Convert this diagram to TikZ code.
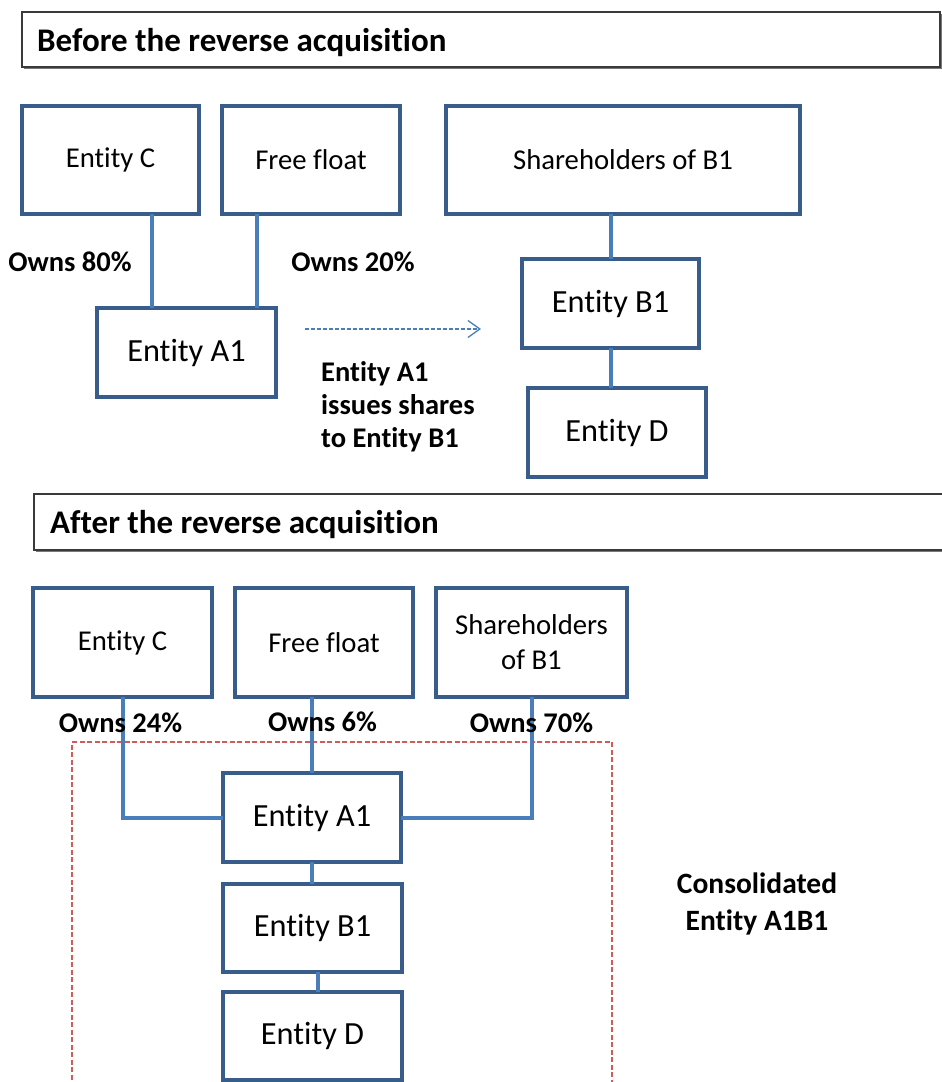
\documentclass[tikz,border=0pt]{standalone}
\usepackage{fontspec}
\setmainfont[Ligatures={NoCommon,NoContextual}]{Carlito}
\usetikzlibrary{arrows.meta,shadows}

\definecolor{boxblue}{HTML}{385D8A}
\definecolor{linkblue}{HTML}{4A7EBB}
\definecolor{groupred}{HTML}{D05B5B}
\definecolor{headgray}{HTML}{3A3A3A}

\newcommand\entsmall{\fontsize{28.7}{35}\selectfont}
\newcommand\entbig{\fontsize{32.3}{38}\selectfont}
\newcommand\ownsfont{\fontsize{28.5}{33}\selectfont\bfseries}
\newcommand\headfont{\fontsize{33}{38}\selectfont\bfseries}
\newcommand\consfont{\fontsize{29.5}{37}\selectfont\bfseries}

\tikzset{
  entity/.style={draw=boxblue, line width=3.3pt, fill=white, rectangle,
    inner sep=0pt, outer sep=0pt, align=center},
  link/.style={draw=linkblue, line width=4pt},
  headbox/.style={draw=headgray, line width=1.3pt, fill=white, rectangle,
    inner sep=0pt, outer sep=0pt,
    drop shadow={shadow xshift=1.6pt, shadow yshift=-1.6pt, opacity=0.75, fill=black!70}},
  groupbox/.style={draw=groupred, line width=1.6pt, dash pattern=on 5pt off 2.5pt,
    rectangle, inner sep=0pt, outer sep=0pt},
  ownslabel/.style={inner sep=0pt, font=\ownsfont},
}

\begin{document}
\begin{tikzpicture}[x=1pt, y=-1pt]
\useasboundingbox (0,0) rectangle (942,1082);
\clip (0,0) rectangle (942,1082);

% ---------- Before ----------
\node[headbox, minimum width=918pt, minimum height=55pt] (head1) at (481,39.5) {};
\node[anchor=base west, inner sep=0pt, font=\headfont] (head1txt) at (37,51) {Before the reverse acquisition};

\node[entity, minimum width=177pt, minimum height=108pt, font=\entsmall] (c1) at (110.5,160) {Entity C};
\node[entity, minimum width=178pt, minimum height=108pt, font=\entsmall] (ff1) at (311,160) {Free float};
\node[entity, minimum width=354pt, minimum height=108pt, font=\entsmall] (sh1) at (623,160) {Shareholders of B1};
\node[entity, minimum width=179pt, minimum height=89pt, font=\entbig] (a1) at (186.5,352.5) {Entity A1};
\node[entity, minimum width=177pt, minimum height=89pt, font=\entbig] (b1) at (610.5,303.5) {Entity B1};
\node[entity, minimum width=178pt, minimum height=89pt, font=\entbig] (d1) at (617,432.5) {Entity D};

\coordinate (x152) at (152,0);
\coordinate (x257) at (257,0);
\coordinate (x611) at (611,0);
\draw[link] (c1.south -| x152) -- (a1.north -| x152);
\draw[link] (ff1.south -| x257) -- (a1.north -| x257);
\draw[link] (sh1.south -| x611) -- (b1.north -| x611);
\draw[link] (b1.south -| x611) -- (d1.north -| x611);

\node[ownslabel] (own80) at (70,262) {Owns 80\%};
\node[ownslabel] (own20) at (353,262) {Owns 20\%};

\coordinate (issueStart) at (305,329);
\coordinate (issueEnd) at (481,329);
\draw[linkblue, line width=1.3pt, dash pattern=on 4pt off 2pt,
  -{Straight Barb[length=12pt, width=17pt, line width=1.3pt]}] (issueStart) -- (issueEnd);
\node[anchor=west, align=left, inner sep=0pt, font=\ownsfont] (issuetxt) at (321,407)
  {Entity A1\\issues shares\\to Entity B1};

% ---------- After ----------
\node[headbox, minimum width=940pt, minimum height=56pt] (head2) at (504,522) {};
\node[anchor=base west, inner sep=0pt, font=\headfont] (head2txt) at (50,533) {After the reverse acquisition};

\node[groupbox, minimum width=540pt, minimum height=380pt] (group) at (342,932) {};

\node[entity, minimum width=179pt, minimum height=109pt, font=\entsmall] (c2) at (122.5,642.5) {Entity C};
\node[entity, minimum width=178pt, minimum height=109pt, font=\entsmall] (ff2) at (324,642.5) {Free float};
\node[entity, minimum width=191pt, minimum height=109pt, font=\entsmall] (sh2) at (531.5,642.5) {Shareholders\\of B1};
\node[entity, minimum width=178pt, minimum height=89pt, font=\entbig] (a2) at (312,817.5) {Entity A1};
\node[entity, minimum width=179pt, minimum height=88pt, font=\entbig] (b2) at (312.5,928) {Entity B1};
\node[entity, minimum width=179pt, minimum height=88pt, font=\entbig] (d2) at (312.5,1036) {Entity D};

\coordinate (x318) at (318,0);
\draw[link] (c2.south) |- (a2.west);
\draw[link] (sh2.south) |- (a2.east);
\draw[link] (ff2.south -| a2.north) -- (a2.north);
\draw[link] (a2.south -| a2.north) -- (b2.north -| a2.north);
\draw[link] (b2.south -| x318) -- (d2.north -| x318);

\node[ownslabel] (own24) at (120.5,723) {Owns 24\%};
\node[ownslabel] (own6) at (322.5,722) {Owns 6\%};
\node[ownslabel] (own70) at (531.5,723) {Owns 70\%};

\node[align=center, inner sep=0pt, font=\consfont] (constxt) at (757,904) {Consolidated\\Entity A1B1};
\end{tikzpicture}
\end{document}
